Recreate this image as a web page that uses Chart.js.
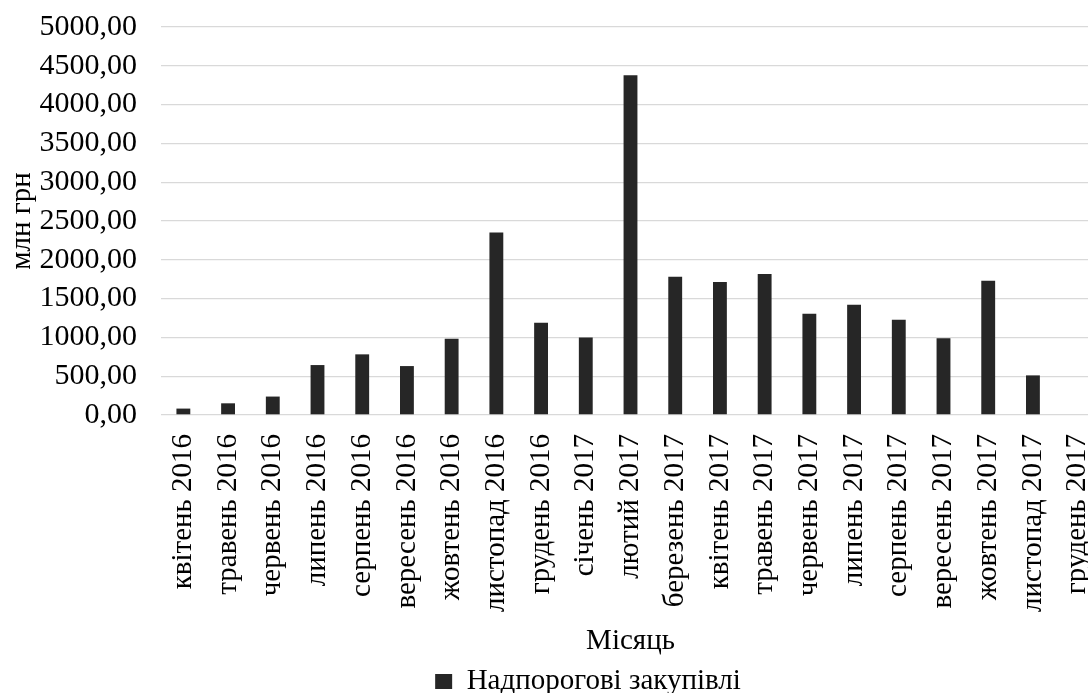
<!DOCTYPE html>
<html lang="uk">
<head>
  <meta charset="UTF-8">
  <title>Надпорогові закупівлі</title>
  <script src="https://cdn.jsdelivr.net/npm/chart.js"></script>
  <style>
    html, body { margin: 0; padding: 0; background: #fff; overflow: hidden; }
    /* canvas is a bit bigger than the window: the right edge and the bottom are cut off like in the source */
    .wrap { width: 1100px; height: 706px; }
  </style>
</head>
<body>
  <div class="wrap">
    <canvas id="chart"></canvas>
  </div>

  <script>
    // months
    const months = [
      'квітень 2016', 'травень 2016', 'червень 2016', 'липень 2016', 'серпень 2016',
      'вересень 2016', 'жовтень 2016', 'листопад 2016', 'грудень 2016', 'січень 2017',
      'лютий 2017', 'березень 2017', 'квітень 2017', 'травень 2017', 'червень 2017',
      'липень 2017', 'серпень 2017', 'вересень 2017', 'жовтень 2017', 'листопад 2017',
      'грудень 2017'
    ];

    // млн грн
    const aboveThreshold = [
      82, 150, 237, 643, 781,
      630, 982, 2350, 1188, 999,
      4378, 1780, 1715, 1818, 1304,
      1420, 1227, 990, 1728, 510,
      0
    ];

    const seriesName = 'Надпорогові закупівлі';
    const xTitle = 'Місяць';
    const yTitle = 'млн грн';

    const font = 'Liberation Serif, Times New Roman, serif';

    // the legend in the source sits a bit right of the canvas centre
    const legendShift = {
      id: 'legendShift',
      afterLayout(chart) {
        chart.legend.left += 38;
        chart.legend.right += 38;
      }
    };

    new Chart(document.getElementById('chart'), {
      type: 'bar',
      data: {
        labels: months,
        datasets: [{
          label: seriesName,
          data: aboveThreshold,
          backgroundColor: '#262626',
          borderWidth: 0,
          categoryPercentage: 1,
          barPercentage: 0.31
        }]
      },
      options: {
        responsive: true,
        maintainAspectRatio: false,
        animation: false,
        layout: { padding: 0 },
        scales: {
          x: {
            grid: { display: false, drawTicks: false },
            border: { display: false },
            ticks: {
              color: '#000',
              font: { family: font, size: 29 },
              minRotation: 90,
              maxRotation: 90,
              autoSkip: false,
              padding: 19
            },
            title: {
              display: true,
              text: xTitle,
              color: '#000',
              font: { family: font, size: 29, lineHeight: 1 },
              padding: { top: -4, bottom: 7 }
            },
            // vertical labels do not need extra room on the left
            afterFit: s => { s.paddingLeft = 0; s.paddingRight = 0; }
          },
          y: {
            min: 0,
            max: 5000,
            grid: { color: '#d9d9d9', lineWidth: 1.3, drawTicks: false },
            border: { display: false },
            ticks: {
              stepSize: 500,
              autoSkip: false,
              color: '#000',
              font: { family: font, size: 30 },
              padding: 24,
              callback: v => v.toFixed(2).replace('.', ',')
            },
            title: {
              display: true,
              text: yTitle,
              color: '#000',
              font: { family: font, size: 29, lineHeight: 1 },
              padding: { top: 8, bottom: 4 }
            },
            afterFit: s => { s.width = 161; s.paddingTop = 27; s.paddingBottom = 0; }
          }
        },
        plugins: {
          legend: {
            display: true,
            position: 'bottom',
            labels: {
              color: '#000',
              font: { family: font, size: 29, lineHeight: 1 },
              boxWidth: 17,
              boxHeight: 15,
              padding: 4
            }
          },
          tooltip: { enabled: false }
        }
      },
      plugins: [legendShift]
    });
  </script>
</body>
</html>
